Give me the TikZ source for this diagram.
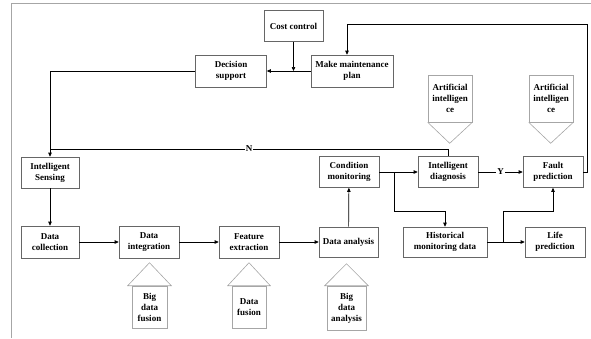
\documentclass[tikz,border=0pt]{standalone}
\usepackage{fontspec}
\setmainfont{Liberation Serif}
\usetikzlibrary{arrows.meta, positioning}

\begin{document}
\begin{tikzpicture}[
    x=1pt, y=-1pt,
    every node/.style={font=\bfseries\fontsize{9}{11}\selectfont, align=center},
    box/.style={draw=gray!80!black, line width=0.6pt, minimum width=60pt, minimum height=31pt, inner sep=1pt},
    callout/.style={draw=gray!70, line width=0.6pt},
    arrow/.style={-{Triangle[length=4pt, width=3.5pt]}, line width=0.7pt},
    link/.style={line width=0.7pt}
]
\useasboundingbox (0,0) rectangle (591,338);
% frame
\draw[gray!70, line width=0.8pt] (11,338) -- (11,3) -- (591,3);

% boxes
\node[box, minimum width=59pt] (cost) at (293.5,26) {Cost control};
\node[box, minimum width=71pt, minimum height=32pt] (dec) at (231,71) {Decision\\support};
\node[box, minimum width=82pt, minimum height=32pt] (plan) at (352,71) {Make maintenance\\plan};
\node[box, minimum width=58pt] (sens) at (50,172.5) {Intelligent\\Sensing};
\node[box, minimum width=58pt, minimum height=32pt] (coll) at (50,242) {Data\\collection};
\node[box, minimum height=32pt] (integ) at (149,242) {Data\\integration};
\node[box, minimum height=32pt] (feat) at (249,242) {Feature\\extraction};
\node[box, minimum width=59pt, minimum height=30pt] (anal) at (348.5,242) {Data analysis};
\node[box] (cond) at (349,172) {Condition\\monitoring};
\node[box] (diag) at (448,172) {Intelligent\\diagnosis};
\node[box] (fault) at (553,172) {Fault\\prediction};
\node[box, minimum width=84pt, minimum height=30pt] (hist) at (445,242) {Historical\\monitoring data};
\node[box, minimum height=30pt] (life) at (555,242) {Life\\prediction};

% callouts
\node[callout, minimum width=44pt, minimum height=47pt, inner sep=0pt] (ai1) at (450,98.5) {Artificial\\intelligen\\ce};
\draw[callout] (ai1.south west) -- ++(22,21) -- (ai1.south east);
\node[callout, minimum width=44pt, minimum height=47pt, inner sep=0pt] (ai2) at (551,98.5) {Artificial\\intelligen\\ce};
\draw[callout] (ai2.south west) -- ++(22,21) -- (ai2.south east);

\node[callout, minimum width=35pt, minimum height=42pt, inner sep=0pt] (bdf) at (149.5,307) {Big\\data\\fusion};
\draw[callout] ([xshift=-4pt]bdf.north west) -- ([yshift=23pt]bdf.north) -- ([xshift=4pt]bdf.north east) -- cycle;
\node[callout, minimum width=34pt, minimum height=42pt, inner sep=0pt] (dfus) at (249,307) {Data\\fusion};
\draw[callout] ([xshift=-4pt]dfus.north west) -- ([yshift=23pt]dfus.north) -- ([xshift=4pt]dfus.north east) -- cycle;
\node[callout, minimum width=39pt, minimum height=44pt, inner sep=0pt] (bda) at (346.5,308) {Big\\data\\analysis};
\draw[callout] ([xshift=-2pt]bda.north west) -- ([yshift=22pt]bda.north) -- ([xshift=2pt]bda.north east) -- cycle;

% connectors
\coordinate (topright) at (587,24);
\coordinate (njoin) at (50,149);
\draw[arrow] (cost.south) -- (cost.south |- dec.east);
\draw[arrow] (plan.west) -- (dec.east);
\draw[arrow] (dec.west) -| (sens.north);
\draw[arrow] (fault.east) -| (topright) -| ([xshift=-5pt]plan.north);
\draw[link] (diag.north) |- (njoin) node[pos=0.75, fill=white, inner sep=1pt] {N};
\draw[arrow] (sens) -- (coll);
\draw[arrow] (coll) -- (integ);
\draw[arrow] (integ) -- (feat);
\draw[arrow] (feat) -- (anal);
\draw[arrow] (anal) -- (cond);
\draw[arrow] (cond) -- (diag);
\draw[arrow] ([xshift=15pt]cond.east) -- ++(0,39) -| (hist.north);
\draw[arrow] (diag) -- (fault) node[midway, fill=white, inner sep=1pt] {Y};
\draw[arrow] (hist) -- (life);
\draw[arrow] ([xshift=16pt]hist.east) -- ++(0,-31) -| (fault.south);
\end{tikzpicture}
\end{document}
